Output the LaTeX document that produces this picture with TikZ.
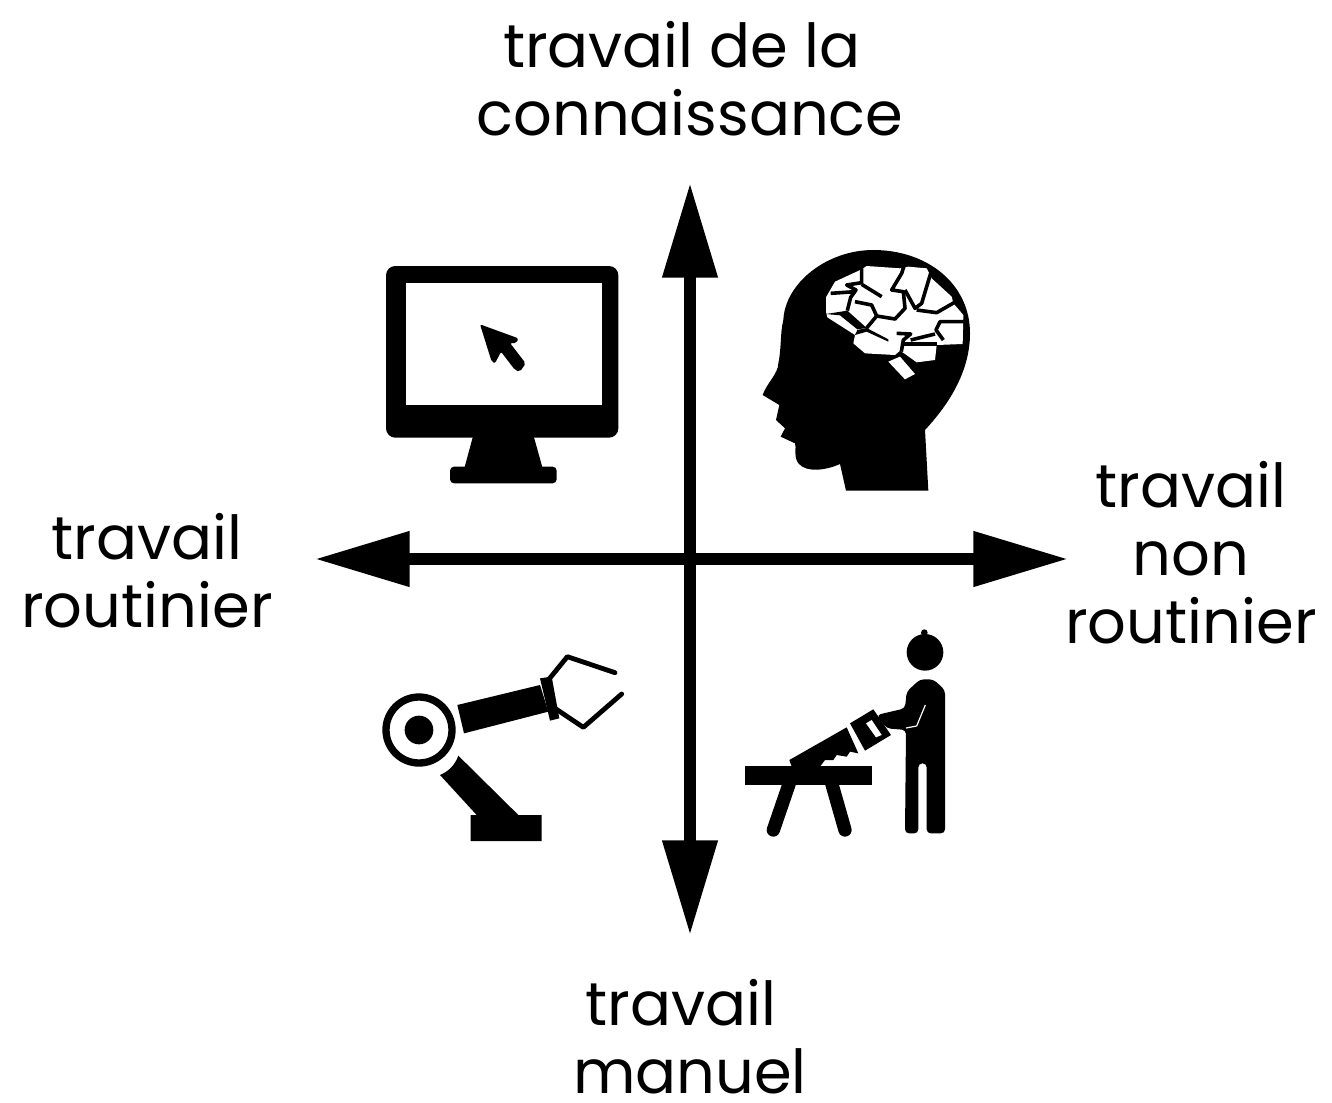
\documentclass[tikz,border=0pt]{standalone}
\usepackage{fontspec}
\setmainfont{Poppins}
\usetikzlibrary{arrows.meta}
\tikzset{
  px/.style={x=0.75pt,y=-0.75pt},
  axis/.style={line width=9pt,black,{Triangle[length=71pt,width=39.5pt]}-{Triangle[length=71pt,width=39.5pt]}},
  lab/.style={inner sep=0pt,align=center,font=\fontsize{45.5}{51}\selectfont,anchor=base},
  icon/.style={x=0.25pt,y=-0.25pt},
  ink/.style={fill=black,draw=none},
  blank/.style={fill=white,draw=none},
  bar/.style={draw=black,line cap=round,line join=round},
  crack/.style={draw=black,line width=2.7pt,line join=round}
}
\begin{document}
\begin{tikzpicture}[px]
\useasboundingbox (0,0) rectangle (1332,1103);
\fill[white] (0,0) rectangle (1332,1103);
% axes
\coordinate (north) at (690,183);
\coordinate (south) at (690,935);
\coordinate (west) at (315,559);
\coordinate (east) at (1068,559);
\draw[axis] (west) -- (east);
\draw[axis] (north) -- (south);
% labels
\node[lab] (knowledge) at (690,135) {travail de la\kern 12pt\null\\connaissance};
\node[lab] (routine) at (147,627) {travail\\routinier};
\node[lab] (nonroutine) at (1191,643) {travail\\non\\routinier};
\node[lab] (manual) at (690,1093) {travail\kern 14pt\null\\manuel};
% monitor
\begin{scope}[shift={(375,255)},icon]
\fill[ink,rounded corners=7pt] (33,33) rectangle (730,548);
\fill[blank] (92,85) rectangle (680,450);
\fill[ink] (295,540) -- (475,540) -- (503,640) -- (268,640) -- cycle;
\fill[ink,rounded corners=3pt] (225,635) rectangle (545,685);
\fill[ink,rounded corners=1.5pt] (315,208) -- (430,250) -- (425,264) -- (405,264) -- (452,325) -- (435,350) -- (420,345) -- (378,290) -- (360,325) -- (350,320) -- cycle;
\end{scope}
% head
\begin{scope}[shift={(740,240)},icon]
\fill[ink] (318,752) -- (300,672) .. controls (260,690) and (200,700) .. (175,670)
 .. controls (160,650) and (170,620) .. (165,610) -- (122,590) -- (135,565) -- (108,540) -- (118,495)
 -- (68,465) .. controls (80,430) and (115,400) .. (115,370)
 .. controls (125,320) and (120,280) .. (130,240) .. controls (135,130) and (260,30) .. (400,30)
 .. controls (560,30) and (690,130) .. (690,280) .. controls (690,400) and (620,500) .. (555,570) -- (565,752) -- cycle;
\fill[blank] (285,125) -- (365,88) -- (380,78) -- (480,85) -- (505,80) -- (560,85) -- (575,115) -- (635,170) -- (640,190) -- (670,225) -- (668,312) -- (590,315) -- (585,360) -- (530,367) -- (495,342) -- (480,332) -- (465,345) -- (375,340) -- (340,310) -- (345,285) -- (262,232) -- (258,215) -- (258,172) -- cycle;
\fill[blank] (445,365) -- (480,350) -- (525,402) -- (495,418) -- cycle;
\fill[ink] (258,222) -- (322,212) -- (380,264) -- (352,268) -- (300,226) -- cycle;
\fill[ink] (352,270) -- (380,264) -- (445,298) -- (445,305) -- (380,275) -- (345,285) -- cycle;
\draw[crack] (365,85) -- (365,128) -- (320,135) -- (348,150) -- (332,172) -- (322,212);
\draw[crack] (272,160) -- (345,155);
\draw[crack] (365,133) -- (425,170);
\draw[crack] (345,185) -- (395,195) -- (410,228) -- (465,237) -- (495,205) -- (490,155) -- (455,150) -- (485,100) -- (492,78);
\draw[crack] (495,150) -- (525,205) -- (545,190) -- (572,100);
\draw[crack] (530,210) -- (590,218) -- (642,188);
\draw[crack] (410,228) -- (380,264);
\draw[crack] (470,280) -- (512,282) -- (490,300) -- (484,335);
\draw[crack] (490,312) -- (592,312);
\draw[crack] (512,300) -- (585,282);
\draw[crack] (672,245) -- (600,245) -- (588,270) -- (610,300);
\end{scope}
% robot arm
\begin{scope}[shift={(370,640)},icon]
\draw[line width=5.5pt] (147,270) circle (99);
\fill[ink] (147,270) circle (43);
\fill[ink] (262,195) -- (510,135) -- (535,215) -- (282,280) -- cycle;
\fill[ink] (510,115) -- (545,110) -- (568,235) -- (540,242) -- cycle;
\draw[bar,line width=3.6pt] (535,120) -- (592,50) -- (735,98);
\draw[bar,line width=3.6pt] (555,205) -- (640,262) -- (755,162);
\fill[ink] (265,347) -- (445,525) -- (515,525) -- (515,603) -- (302,603) -- (302,525) -- (320,525) -- (210,405) .. controls (235,395) and (255,375) .. cycle;
\end{scope}
% person sawing
\begin{scope}[shift={(730,620)},icon]
\fill[ink] (585,97) circle (55);
\fill[ink] (583,38) circle (10);
\fill[ink,rounded corners=3pt] (530,215) -- (570,178) -- (610,178) -- (645,210) -- (645,640) -- (590,640) -- (590,430) -- (565,430) -- (565,640) -- (525,640) -- (528,330) -- (470,325) -- (440,285) -- (525,265) -- cycle;
\draw[white,line width=0.9pt] (528,324) -- (560,318) -- (586,255);
\fill[ink] (360,310) -- (430,268) -- (483,345) -- (405,392) -- cycle;
\fill[blank] (408,310) -- (425,300) -- (455,345) -- (438,352) -- cycle;
\fill[ink] (178,420) -- (350,322) -- (385,400) -- (360,395) -- (350,410) -- (320,405) -- (310,420) -- (285,420) -- (270,440) -- (185,440) -- cycle;
\fill[ink] (45,438) rectangle (425,495);
\draw[bar,line width=10pt] (178,490) -- (130,630);
\draw[bar,line width=10pt] (305,490) -- (345,630);
\end{scope}
\end{tikzpicture}
\end{document}
